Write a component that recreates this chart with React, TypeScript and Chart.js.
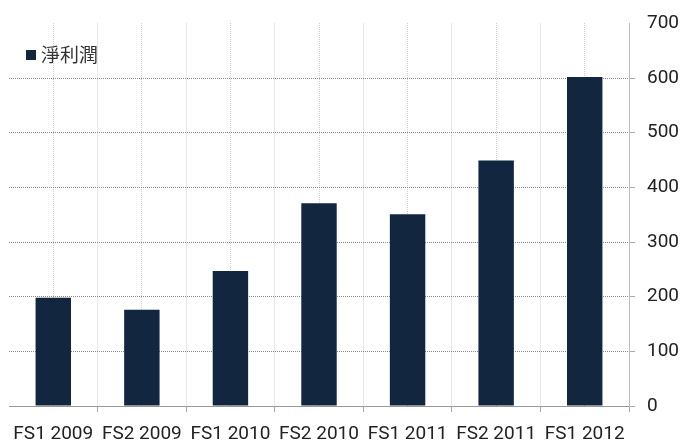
import React, { useEffect, useRef } from "react";
import { Chart, registerables } from "chart.js";

Chart.register(...registerables);

const categories = ["FS1 2009", "FS2 2009", "FS1 2010", "FS2 2010", "FS1 2011", "FS2 2011", "FS1 2012"];
const netProfit = [198, 176, 247, 371, 351, 449, 602];
const seriesName = "淨利潤";
const yMin = 0;
const yMax = 700;
const yStep = 100;

const BAR_COLOR = "#13263f";
const LABEL_FONT = "Roboto, 'DejaVu Sans', sans-serif";

const legendPlugin = {
  id: "cornerLegend",
  afterDraw(chart: any) {
    const { ctx } = chart;
    ctx.save();
    ctx.fillStyle = BAR_COLOR;
    ctx.fillRect(26, 50, 10, 10);
    ctx.fillStyle = "#333";
    ctx.font = "19px 'Noto Sans CJK TC', sans-serif";
    ctx.textBaseline = "middle";
    ctx.textAlign = "left";
    ctx.fillText(seriesName, 41, 55);
    ctx.restore();
  },
};

export default function App() {
  const ref = useRef<HTMLCanvasElement>(null);
  useEffect(() => {
    document.body.style.margin = "0";
    const chart = new Chart(ref.current!, {
      type: "bar",
      data: {
        labels: categories,
        datasets: [
          {
            label: seriesName,
            data: netProfit,
            backgroundColor: BAR_COLOR,
            borderWidth: 0,
            barPercentage: 0.4,
            categoryPercentage: 1,
          },
        ],
      },
      options: {
        animation: false,
        responsive: false,
        layout: { padding: { left: 9, top: 20, right: 0, bottom: 0 } },
        plugins: { legend: { display: false }, tooltip: { enabled: false } },
        scales: {
          x: {
            type: "category",
            position: "bottom",
            offset: true,
            grid: {
              offset: true,
              color: (c: any) => (c.index === 0 || c.index === categories.length ? "transparent" : "#cfcfcf"),
              tickColor: (c: any) => (c.index === 0 ? "transparent" : "#aaa"),
              tickLength: 6,
              lineWidth: 1,
            },
            border: { display: true, color: "#999", width: 1, dash: [1, 1] },
            ticks: {
              color: "#222",
              font: { family: LABEL_FONT, size: 19 },
              padding: 11,
              maxRotation: 0,
              autoSkip: false,
            },
            afterFit: (s: any) => {
              s.height = 41;
            },
          },
          x2: {
            type: "category",
            position: "top",
            offset: true,
            labels: categories,
            grid: {
              offset: false,
              color: "#cfcfcf",
              drawTicks: false,
              lineWidth: 1,
            },
            border: { display: false, dash: [1, 1] },
            ticks: { display: false },
            afterFit: (s: any) => {
              s.height = 0;
            },
          },
          y: {
            position: "right",
            min: yMin,
            max: yMax,
            ticks: {
              stepSize: yStep,
              color: "#222",
              font: { family: LABEL_FONT, size: 19 },
              padding: 12,
            },
            grid: {
              color: (c: any) => (c.tick && (c.tick.value === yMax || c.tick.value === yMin) ? "transparent" : "#8a8a8a"),
              tickColor: (c: any) => (c.tick && c.tick.value === yMax ? "transparent" : "#aaa"),
              tickLength: 6,
              lineWidth: 1,
            },
            border: { display: true, color: "#bbb", width: 1, dash: [1, 1] },
            afterFit: (s: any) => {
              s.width = 51;
            },
          },
        },
      },
      plugins: [legendPlugin],
    } as any);
    return () => chart.destroy();
  }, []);
  return (
    <div style={{ position: "absolute", left: 0, top: 0, width: 680, height: 447, background: "#fff" }}>
      <canvas ref={ref} width={680} height={447} />
    </div>
  );
}
